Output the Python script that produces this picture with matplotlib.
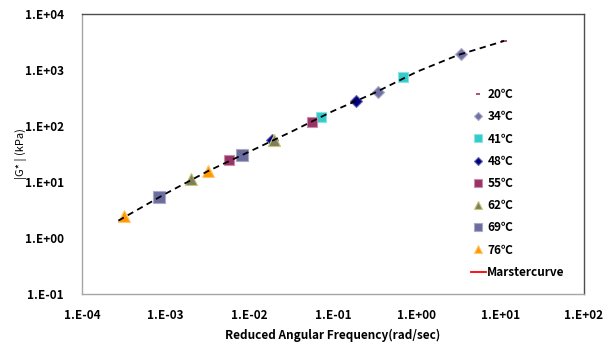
import matplotlib
matplotlib.use("Agg")
import matplotlib.pyplot as plt
from matplotlib.lines import Line2D

plt.rcParams['font.family'] = ['Noto Sans CJK KR', 'DejaVu Sans']

# Reduced angular frequency (rad/s) and |G*| (kPa) per test temperature
freq_20 = [11.1]
g_20 = [3300]
freq_34 = [0.341, 3.37]
g_34 = [410, 1930]
freq_41 = [0.0711, 0.69]
g_41 = [146, 741]
freq_48 = [0.0185, 0.186]
g_48 = [57, 283]
freq_55 = [0.00575, 0.0564]
g_55 = [24.7, 119]
freq_62 = [0.0020, 0.0199]
g_62 = [11.2, 56]
freq_69 = [0.00083, 0.0082]
g_69 = [5.3, 30.3]
freq_76 = [0.00032, 0.00318]
g_76 = [2.47, 15.5]

# Fitted master curve
curve_freq = [2.72e-4, 3.16e-4, 1e-3, 3.16e-3, 1e-2, 3.16e-2, 1e-1, 3.16e-1, 1.0, 3.16, 11.1]
curve_g = [2.04, 2.32, 6.2, 15.5, 34.8, 78.7, 185, 392, 927, 1862, 3300]

series = [
    ("20℃", freq_20, g_20, dict(marker='_', color='#993366', ms=4, mew=1.2, mec='#993366')),
    ("34℃", freq_34, g_34, dict(marker='D', color='#7070A3', ms=6.5, mew=0.8, mec='#A9A9C8')),
    ("41℃", freq_41, g_41, dict(marker='s', color='#33CCCC', ms=7.5, mew=0.8, mec='#8FE3E3')),
    ("48℃", freq_48, g_48, dict(marker='D', color='#000080', ms=6.5, mew=0.8, mec='#6666B0')),
    ("55℃", freq_55, g_55, dict(marker='s', color='#993366', ms=7.5, mew=0.8, mec='#C98FAA')),
    ("62℃", freq_62, g_62, dict(marker='^', color='#7F7F5F', ms=8, mew=0.8, mec='#C8C870')),
    ("69℃", freq_69, g_69, dict(marker='s', color='#6C6C9E', ms=8, mew=0.8, mec='#A9A9C8')),
    ("76℃", freq_76, g_76, dict(marker='^', color='#FF9900', ms=8, mew=0.8, mec='#FFC873')),
]

fig = plt.figure(figsize=(6.15, 3.43), dpi=100)
ax = fig.add_axes([82 / 615, 49 / 343, 502 / 615, 280 / 343])

handles = []
for label, fx, gy, style in series:
    h, = ax.plot(fx, gy, linestyle='none', label=label, zorder=3, **style)
    handles.append(h)

ax.plot(curve_freq, curve_g, linestyle=(0, (3.5, 2.5)), color='black', lw=1.3, zorder=4)
handles.append(Line2D([], [], color='#FF0000', lw=1.3, label='Marstercurve'))

ax.set_xscale('log')
ax.set_yscale('log')
ax.set_xlim(1e-4, 1e2)
ax.set_ylim(1e-1, 1e4)

xticks = [1e-4, 1e-3, 1e-2, 1e-1, 1e0, 1e1, 1e2]
xlabels = ["1.E-04", "1.E-03", "1.E-02", "1.E-01", "1.E+00", "1.E+01", "1.E+02"]
yticks = [1e-1, 1e0, 1e1, 1e2, 1e3, 1e4]
ylabels = ["1.E-01", "1.E+00", "1.E+01", "1.E+02", "1.E+03", "1.E+04"]
ax.set_xticks(xticks)
ax.set_xticklabels(xlabels, fontsize=8.5, fontweight='bold')
ax.set_yticks(yticks)
ax.set_yticklabels(ylabels, fontsize=8.5, fontweight='bold')
ax.minorticks_off()
ax.tick_params(axis='both', length=0)
ax.tick_params(axis='x', pad=11)
ax.tick_params(axis='y', pad=13)

for side in ('left', 'bottom'):
    ax.spines[side].set_color('#A6A6A6')
    ax.spines[side].set_linewidth(1.0)
for side in ('top', 'right'):
    ax.spines[side].set_color('#4D4D4D')
    ax.spines[side].set_linewidth(1.0)

ax.set_xlabel("Reduced Angular Frequency(rad/sec)", fontsize=8.5, fontweight='bold', va='center')
ax.xaxis.set_label_coords(0.5, -41 / 280)
ax.set_ylabel("|G* | (kPa)", fontsize=8, va='center')
ax.yaxis.set_label_coords(-61 / 502, 0.5)

leg = ax.legend(handles=handles, loc='upper left', bbox_to_anchor=(0.765, 0.752),
                frameon=False, prop=dict(weight='bold', size=8.5),
                labelspacing=0.78, handlelength=1.3, handletextpad=0.1,
                borderaxespad=0, markerscale=0.7)

fig.savefig("out.png", dpi=100)
